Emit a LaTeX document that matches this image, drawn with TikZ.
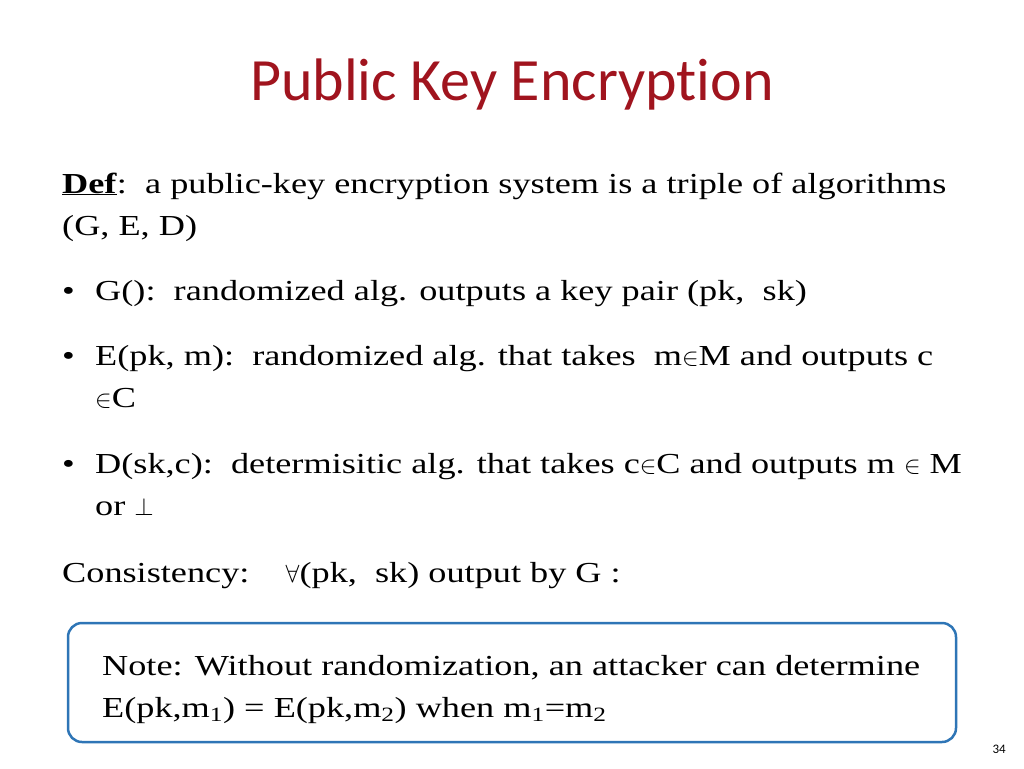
\documentclass[tikz,border=0pt]{standalone}
\usepackage{fontspec}
\setmainfont[FakeStretch=1.25]{Liberation Serif}
\newfontfamily\titlefont[RawFeature=-liga]{Carlito}
\definecolor{titlered}{HTML}{A0141E}
\definecolor{boxblue}{HTML}{2E75B6}
\begin{document}
\begin{tikzpicture}[x=1pt,y=-1pt,
  body/.style={anchor=base west,inner sep=0pt,font=\fontsize{29}{34}\selectfont},
  bul/.style={anchor=base west,inner sep=0pt,font=\fontsize{29}{34}\selectfont}]
\useasboundingbox (0,0) rectangle (1024,768);
\node[anchor=base,inner sep=0pt,text=titlered,font=\titlefont\fontsize{60}{70}\selectfont] (title) at (512,100) {Public Key Encryption};
\node[body] (def1) at (62,193) {\underline{\textbf{Def}}:\ \ a public-key encryption system is a triple of algorithms};
\node[body] (def2) at (62,235) {(G, E, D)};
\node[bul] (b1) at (62,300) {•};
\node[body] (g) at (95,300) {G():\ \ randomized alg. outputs a key pair (pk,\ \ sk)};
\node[bul] (b2) at (62,365) {•};
\node[body] (e1) at (95,365) {E(pk, m):\ \ randomized alg. that takes\ \ m$\in$M and outputs c};
\node[body] (e2) at (95,407) {$\in$C};
\node[bul] (b3) at (62,473) {•};
\node[body] (d1) at (95,473) {D(sk,c):\ \ determisitic alg. that takes c$\in$C and outputs m $\in$ M};
\node[body] (d2) at (95,515) {or $\perp$};
\node[body] (cons) at (62,582) {Consistency:\ \ \ \ $\forall$(pk,\ \ sk) output by G :};
\draw[boxblue,line width=2.5pt,rounded corners=14pt] (68,623) rectangle (956,742);
\node[body] (n1) at (102,675) {Note: Without randomization, an attacker can determine};
\node[body] (n2) at (102,717) {E(pk,m\textsubscript{1}) = E(pk,m\textsubscript{2}) when m\textsubscript{1}=m\textsubscript{2}};
\node[anchor=base east,inner sep=0pt,font=\titlefont\fontsize{13}{15}\selectfont] (pg) at (1006,753) {34};
\end{tikzpicture}
\end{document}
